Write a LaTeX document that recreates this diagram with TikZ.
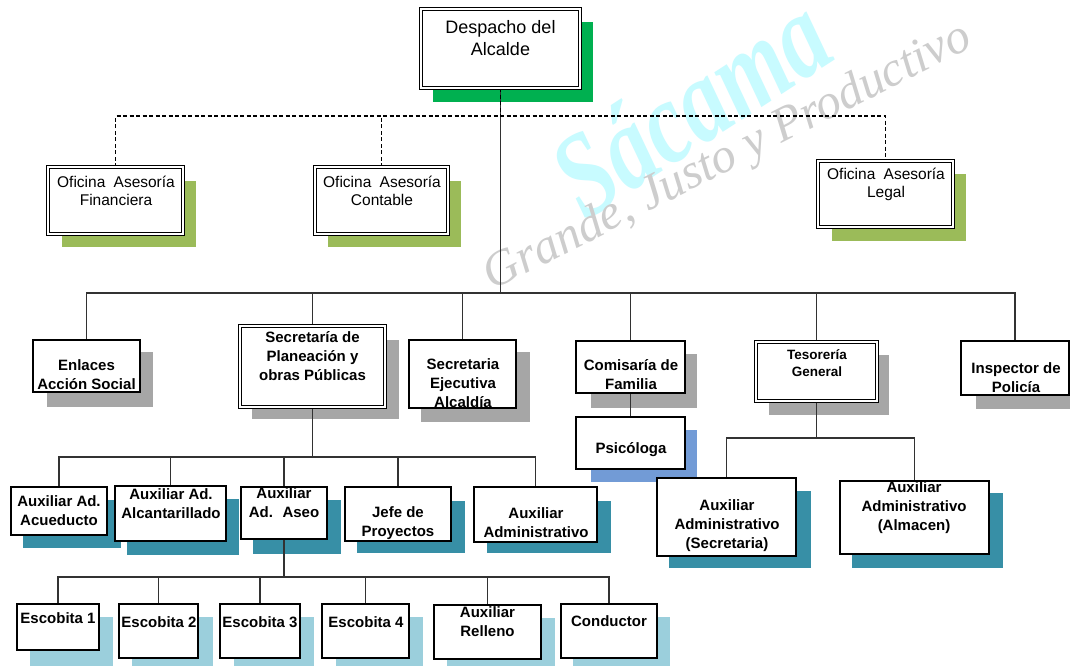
\documentclass[tikz,border=0pt]{standalone}
\usepackage{fontspec}
\setmainfont{Liberation Sans}
\newfontfamily\wmfont{Liberation Serif}
\usetikzlibrary{calc}
\definecolor{cgreen}{RGB}{0,176,80}
\definecolor{colive}{RGB}{155,187,89}
\definecolor{cgray}{RGB}{166,166,166}
\definecolor{cteal}{RGB}{55,143,166}
\definecolor{clblue}{RGB}{155,207,220}
\definecolor{cpblue}{RGB}{114,155,214}
\definecolor{cline}{RGB}{50,50,50}
\definecolor{cwmc}{RGB}{200,251,255}
\definecolor{cwmg}{RGB}{205,205,205}
\newcommand\bx[6]{\node[#1, minimum width={(#5)-(#3)}, minimum height={(#6)-(#4)}] (#2) at ({((#3)+(#5))/2},{((#4)+(#6))/2}) {};}
\newcommand\shd[5]{\fill[#1] (#2,#3) rectangle (#4,#5);}
\tikzset{
  sgl/.style={draw=black, line width=1.1pt, fill=white, inner sep=0pt, outer sep=0pt},
  dbl/.style={draw=black, line width=0.9pt, double=white, double distance=1.6pt, fill=white, inner sep=0pt, outer sep=0pt},
  con/.style={draw=cline, line width=1.2pt},
  dsh/.style={draw=black, line width=1.5pt, dash pattern=on 4pt off 2.5pt},
  tr/.style={align=center, inner sep=0pt, font=\fontsize{15.5}{18}\selectfont},
  td/.style={align=center, inner sep=0pt, font=\fontsize{18}{22}\selectfont},
  tb/.style={align=center, inner sep=0pt, font=\bfseries\fontsize{15}{19}\selectfont},
  ts/.style={align=center, inner sep=0pt, font=\bfseries\fontsize{13.5}{17}\selectfont},
}
\begin{document}
\begin{tikzpicture}[x=1pt,y=-1pt]
\clip (0,0) rectangle (1070,665);
\fill[white] (0,0) rectangle (1070,665);
% watermarks
\node[text=cwmc, rotate=33, font=\wmfont\bfseries\itshape\fontsize{92}{92}\selectfont, inner sep=0pt] (wm1) at (690,105) {\scalebox{1}[1.3]{Sácama}};
\node[text=cwmg, rotate=27, font=\wmfont\itshape\fontsize{49}{49}\selectfont, inner sep=0pt] (wm2) at (728,158) {Grande, Justo y Productivo};
% shadows
\shd{cgreen}{433}{22}{593}{102}
\shd{colive}{62}{181}{196}{247}
\shd{colive}{328}{181}{461}{247}
\shd{colive}{832}{174}{966}{241}
\shd{cgray}{47}{352}{153}{407}
\shd{cgray}{252}{340}{399}{419}
\shd{cgray}{421}{352}{530}{422}
\shd{cgray}{591}{354}{697}{408}
\shd{cpblue}{591}{430}{697}{482}
\shd{cgray}{769}{355}{889}{415}
\shd{cgray}{976}{357}{1084}{409}
\shd{cteal}{23}{500}{121}{548}
\shd{cteal}{127}{499}{239}{555}
\shd{cteal}{253}{500}{341}{554}
\shd{cteal}{357}{501}{465}{553}
\shd{cteal}{487}{501}{611}{553}
\shd{cteal}{669}{491}{811}{568}
\shd{cteal}{852}{493}{1003}{568}
\shd{clblue}{30}{617}{113}{672}
\shd{clblue}{132}{617}{213}{672}
\shd{clblue}{234}{617}{314}{672}
\shd{clblue}{336}{617}{423}{672}
\shd{clblue}{447}{618}{555}{672}
\shd{clblue}{573}{617}{670}{672}
% boxes (defined first for names)
\bx{dbl}{desp}{421}{9}{580}{88}
\bx{dbl}{fin}{48}{167}{183}{234}
\bx{dbl}{cont}{315}{167}{448}{234}
\bx{dbl}{legal}{818}{161}{953}{227}
\bx{sgl}{enl}{33}{340}{140}{392}
\bx{dbl}{plan}{240}{326}{385}{407}
\bx{sgl}{ejec}{409}{340}{516}{408}
\bx{sgl}{com}{576}{341}{685}{393}
\bx{sgl}{psic}{576}{417}{685}{469}
\bx{dbl}{tes}{756}{342}{877}{401}
\bx{sgl}{insp}{961}{341}{1069}{395}
\bx{sgl}{acu}{11}{487}{107}{535}
\bx{sgl}{alc}{115}{486}{226}{541}
\bx{sgl}{aseo}{241}{487}{327}{539}
\bx{sgl}{jefe}{345}{487}{451}{541}
\bx{sgl}{aadm}{474}{487}{597}{542}
\bx{sgl}{asec}{657}{478}{796}{556}
\bx{sgl}{aalm}{840}{481}{989}{554}
\bx{sgl}{e1}{17}{604}{99}{650}
\bx{sgl}{e2}{119}{604}{198}{658}
\bx{sgl}{e3}{220}{604}{300}{658}
\bx{sgl}{e4}{322}{604}{409}{658}
\bx{sgl}{rell}{434}{605}{541}{659}
\bx{sgl}{cond}{561}{604}{657}{658}
% bus coordinates
\coordinate (b1) at (500.5,116);
\coordinate (b2) at (500.5,293);
\coordinate (b3) at (312.5,457);
\coordinate (b4) at (284,577);
\coordinate (bt) at (816.5,438);
% connectors
\draw[con] (desp.south) -- (b2);
\draw[dsh] (desp.south) -- (b1);
\draw[dsh] (fin.north) |- (b1) -| (legal.north);
\draw[dsh] (cont.north) -- (cont.north |- b1);
\draw[con] (enl.north) |- (b2) -| (insp.north);
\foreach \n in {plan,ejec,com,tes} \draw[con] (\n.north) -- (\n.north |- b2);
\draw[con] (plan.south) -- (b3);
\draw[con] (acu.north) |- (b3) -| (aadm.north);
\foreach \n in {alc,aseo,jefe} \draw[con] (\n.north) -- (\n.north |- b3);
\draw[con] (aseo.south) -- (b4);
\draw[con] (e1.north) |- (b4) -| (cond.north);
\foreach \n in {e2,e3,e4,rell} \draw[con] (\n.north) -- (\n.north |- b4);
\draw[con] (tes.south) -- (bt);
\draw[con] (asec.north) |- (bt) -| (aalm.north);
\draw[con] (com.south) -- (psic.north);
% redraw boxes on top of connectors
\bx{dbl}{desp}{421}{9}{580}{88}
\bx{dbl}{fin}{48}{167}{183}{234}
\bx{dbl}{cont}{315}{167}{448}{234}
\bx{dbl}{legal}{818}{161}{953}{227}
\bx{sgl}{enl}{33}{340}{140}{392}
\bx{dbl}{plan}{240}{326}{385}{407}
\bx{sgl}{ejec}{409}{340}{516}{408}
\bx{sgl}{com}{576}{341}{685}{393}
\bx{sgl}{psic}{576}{417}{685}{469}
\bx{dbl}{tes}{756}{342}{877}{401}
\bx{sgl}{insp}{961}{341}{1069}{395}
\bx{sgl}{acu}{11}{487}{107}{535}
\bx{sgl}{alc}{115}{486}{226}{541}
\bx{sgl}{aseo}{241}{487}{327}{539}
\bx{sgl}{jefe}{345}{487}{451}{541}
\bx{sgl}{aadm}{474}{487}{597}{542}
\bx{sgl}{asec}{657}{478}{796}{556}
\bx{sgl}{aalm}{840}{481}{989}{554}
\bx{sgl}{e1}{17}{604}{99}{650}
\bx{sgl}{e2}{119}{604}{198}{658}
\bx{sgl}{e3}{220}{604}{300}{658}
\bx{sgl}{e4}{322}{604}{409}{658}
\bx{sgl}{rell}{434}{605}{541}{659}
\bx{sgl}{cond}{561}{604}{657}{658}
% texts
\node[td] (t-desp) at (500.5,38) {Despacho del\\Alcalde};
\node[tr] (t-fin) at (116,191) {Oficina\hspace{4pt} Asesoría\\Financiera};
\node[tr] (t-cont) at (382,191) {Oficina\hspace{4pt} Asesoría\\Contable};
\node[tr] (t-legal) at (886,184.5) {Oficina\hspace{4pt} Asesoría\\Legal};
\node[tb] (t-enl) at (86.5,374.5) {Enlaces\\Acción Social};
\node[tb] (t-plan) at (312.5,356.5) {Secretaría de\\Planeación y\\obras Públicas};
\node[tb] (t-ejec) at (463,383) {Secretaria\\Ejecutiva\\Alcaldía};
\node[tb] (t-com) at (631,374.5) {Comisaría de\\Familia};
\node[tb] (t-psic) at (631,450) {Psicóloga};
\node[ts] (t-tes) at (817,363.5) {Tesorería\\General};
\node[tb] (t-insp) at (1016,378) {Inspector de\\Policía};
\node[tb] (t-acu) at (59,510.5) {Auxiliar Ad.\\Acueducto};
\node[tb] (t-alc) at (171,503.5) {Auxiliar Ad.\\Alcantarillado};
\node[tb] (t-aseo) at (284,503) {Auxiliar\\Ad.\hspace{4pt} Aseo};
\node[tb] (t-jefe) at (398,523) {Jefe de\\Proyectos};
\node[tb] (t-aadm) at (536,523) {Auxiliar\\Administrativo};
\node[tb] (t-asec) at (727,526) {Auxiliar\\Administrativo\\(Secretaria)};
\node[tb] (t-aalm) at (914,508) {Auxiliar\\Administrativo\\(Almacen)};
\node[tb] (t-e1) at (58,618) {Escobita 1};
\node[tb] (t-e2) at (159,622) {Escobita 2};
\node[tb] (t-e3) at (260,622) {Escobita 3};
\node[tb] (t-e4) at (366,622) {Escobita 4};
\node[tb] (t-rell) at (487.5,621.5) {Auxiliar\\Relleno};
\node[tb] (t-cond) at (609,621) {Conductor};
\end{tikzpicture}
\end{document}
